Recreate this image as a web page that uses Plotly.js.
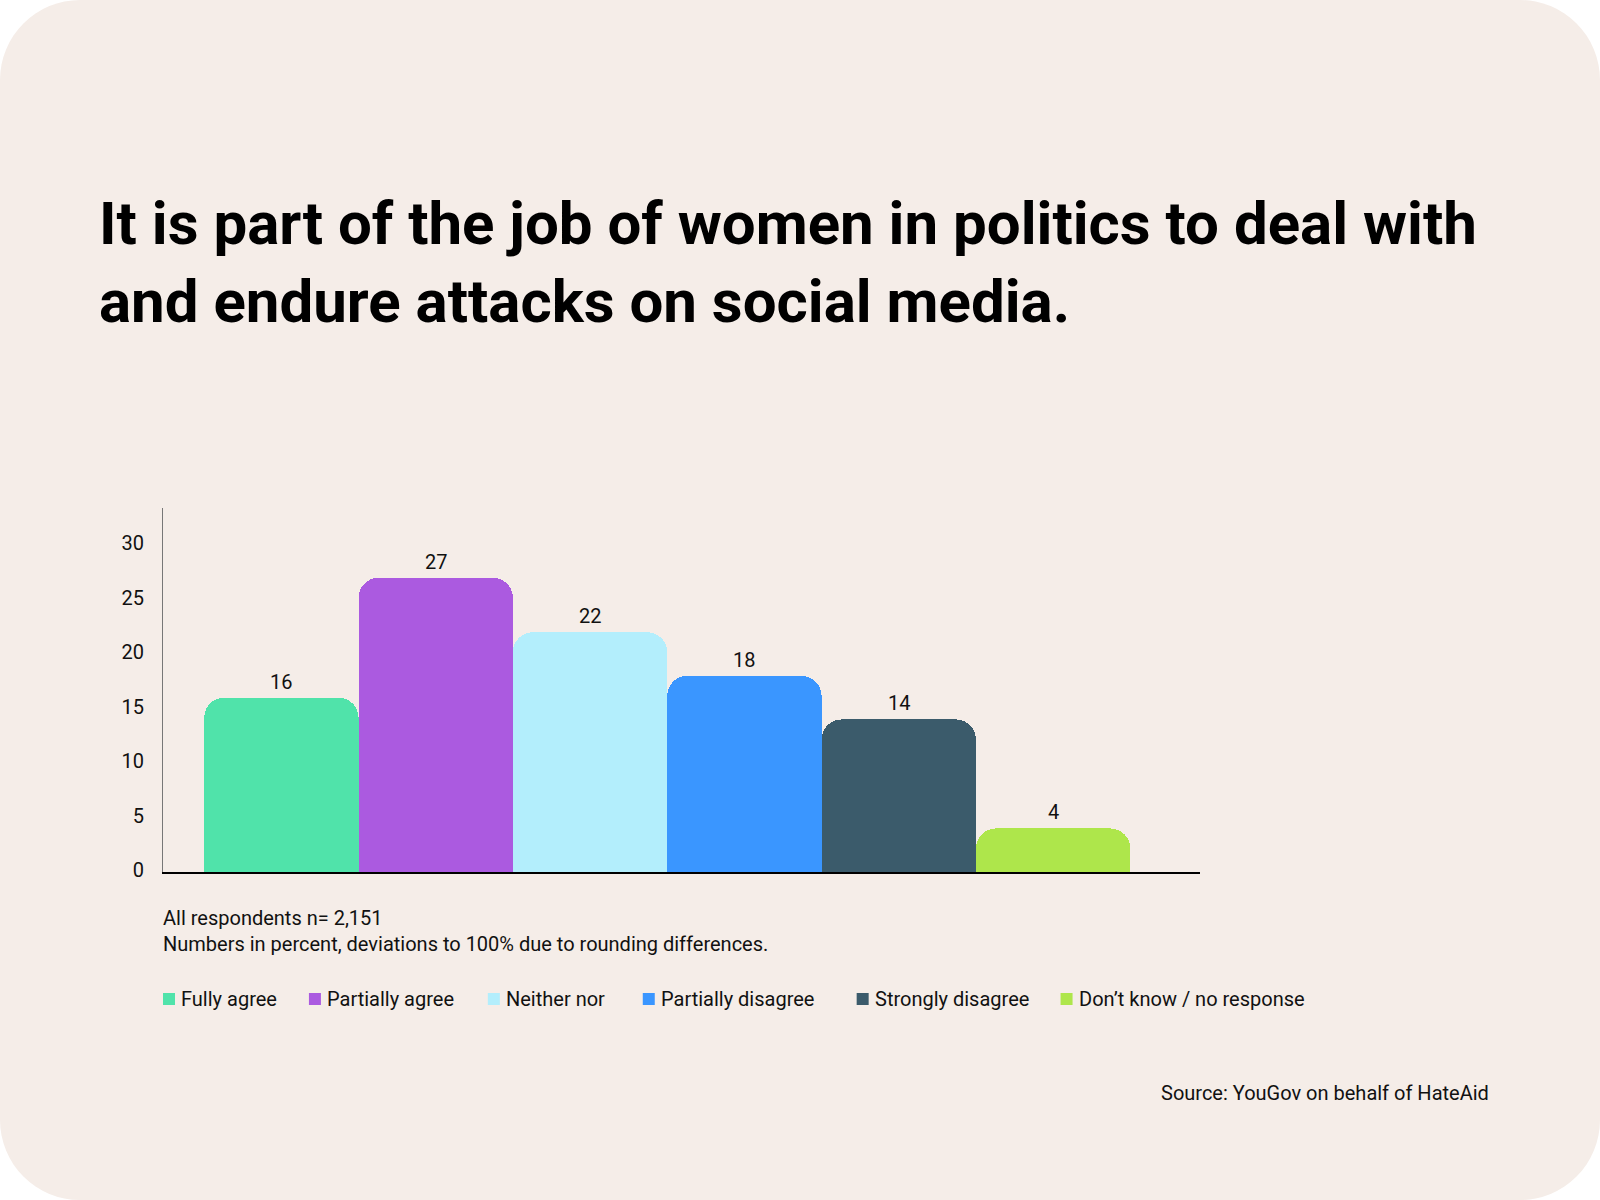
<!DOCTYPE html>
<html>
<head>
<meta charset="utf-8">
<script src="https://cdn.plot.ly/plotly-3.0.1.min.js"></script>
<style>
  html, body { margin: 0; padding: 0; background: #ffffff; }
  #card { position: absolute; left: 0; top: 0; width: 1600px; height: 1200px;
          background: #f5ede8; border-radius: 80px; overflow: hidden; }
  #chart { position: absolute; left: 0; top: 0; width: 1600px; height: 1200px; }
</style>
</head>
<body>
<div id="card"><div id="chart"></div></div>
<script>
var categories = ["Fully agree", "Partially agree", "Neither nor", "Partially disagree", "Strongly disagree", "Don\u2019t know / no response"];
var values = [16, 27, 22, 18, 14, 4];
var colors = ["#50e3aa", "#ab5ae0", "#b3eefc", "#3a96ff", "#3b5b6b", "#aee64b"];
var yTicks = [0, 5, 10, 15, 20, 25, 30];
var titleText = "It is part of the job of women in politics to deal with<br>and endure attacks on social media.";
var noteText = "All respondents n= 2,151<br>Numbers in percent, deviations to 100% due to rounding differences.";
var sourceText = "Source: YouGov on behalf of HateAid";

var FONT = "Roboto, 'Noto Sans', sans-serif";

// layout geometry (pixels)
var W = 1600, H = 1200;
var M = { l: 163, r: 399.5, t: 508, b: 328 };
var PW = W - M.l - M.r, PH = H - M.t - M.b;
function px2x(px) { return (px - M.l) / PW; }
function px2y(py) { return (H - M.b - py) / PH; }
var legendStartPx = [163, 309, 488, 643, 857, 1061];
var legendRowPx = 999;

var traces = categories.map(function (c, i) {
  return {
    type: "bar",
    name: c,
    x: [c],
    y: [values[i]],
    marker: { color: colors[i], cornerradius: 20, line: { width: 0 } },
    hoverinfo: "x+y",
    showlegend: false
  };
});

var annotations = categories.map(function (c, i) {
  return {
    x: c, y: values[i], xref: "x", yref: "y",
    text: String(values[i]), showarrow: false,
    xanchor: "center", yanchor: "bottom", yshift: 2,
    font: { family: FONT, size: 20, color: "#111111" }
  };
});

annotations.push({
  x: px2x(161), y: px2y(930.5), xref: "paper", yref: "paper",
  text: noteText, showarrow: false, align: "left",
  xanchor: "left", yanchor: "middle",
  font: { family: FONT, size: 20, color: "#111111" }
});
annotations.push({
  x: px2x(1492), y: px2y(1093), xref: "paper", yref: "paper",
  text: sourceText, showarrow: false, align: "right",
  xanchor: "right", yanchor: "middle",
  font: { family: FONT, size: 20, color: "#111111" }
});

// legend: colour squares + labels
var shapes = [];
categories.forEach(function (c, i) {
  var x0 = legendStartPx[i];
  shapes.push({
    type: "rect", xref: "paper", yref: "paper",
    x0: px2x(x0), x1: px2x(x0 + 12),
    y0: px2y(legendRowPx + 6), y1: px2y(legendRowPx - 6),
    fillcolor: colors[i], line: { width: 0 }
  });
  annotations.push({
    x: px2x(x0 + 16), y: px2y(legendRowPx), xref: "paper", yref: "paper",
    text: c, showarrow: false, xanchor: "left", yanchor: "middle",
    font: { family: FONT, size: 20, color: "#111111" }
  });
});

var layout = {
  width: W, height: H,
  paper_bgcolor: "rgba(0,0,0,0)",
  plot_bgcolor: "rgba(0,0,0,0)",
  margin: { l: M.l, r: M.r, t: M.t, b: M.b, pad: 0 },
  barmode: "overlay",
  bargap: 0,
  font: { family: FONT, color: "#111111" },
  title: {
    text: titleText,
    x: 99 / W, xref: "container", xanchor: "left",
    y: 1 - 244 / H, yref: "container", yanchor: "middle",
    font: { family: FONT, size: 60, color: "#000000", weight: 700 }
  },
  xaxis: {
    type: "category",
    categoryorder: "array",
    categoryarray: categories,
    range: [-0.767, 5.952],
    showticklabels: false,
    showgrid: false, zeroline: false,
    showline: true, linecolor: "#000000", linewidth: 1.5,
    ticks: "", fixedrange: true
  },
  yaxis: {
    range: [0, 33.4],
    tickvals: yTicks,
    ticktext: yTicks.map(String),
    showgrid: false, zeroline: false,
    showline: true, linecolor: "#777777", linewidth: 1,
    ticks: "", ticklabelstandoff: 14, ticklabelshift: -2,
    tickfont: { family: FONT, size: 20, color: "#111111" },
    fixedrange: true
  },
  showlegend: false,
  shapes: shapes,
  annotations: annotations
};

Plotly.newPlot("chart", traces, layout, { displayModeBar: false, staticPlot: true });
</script>
</body>
</html>
